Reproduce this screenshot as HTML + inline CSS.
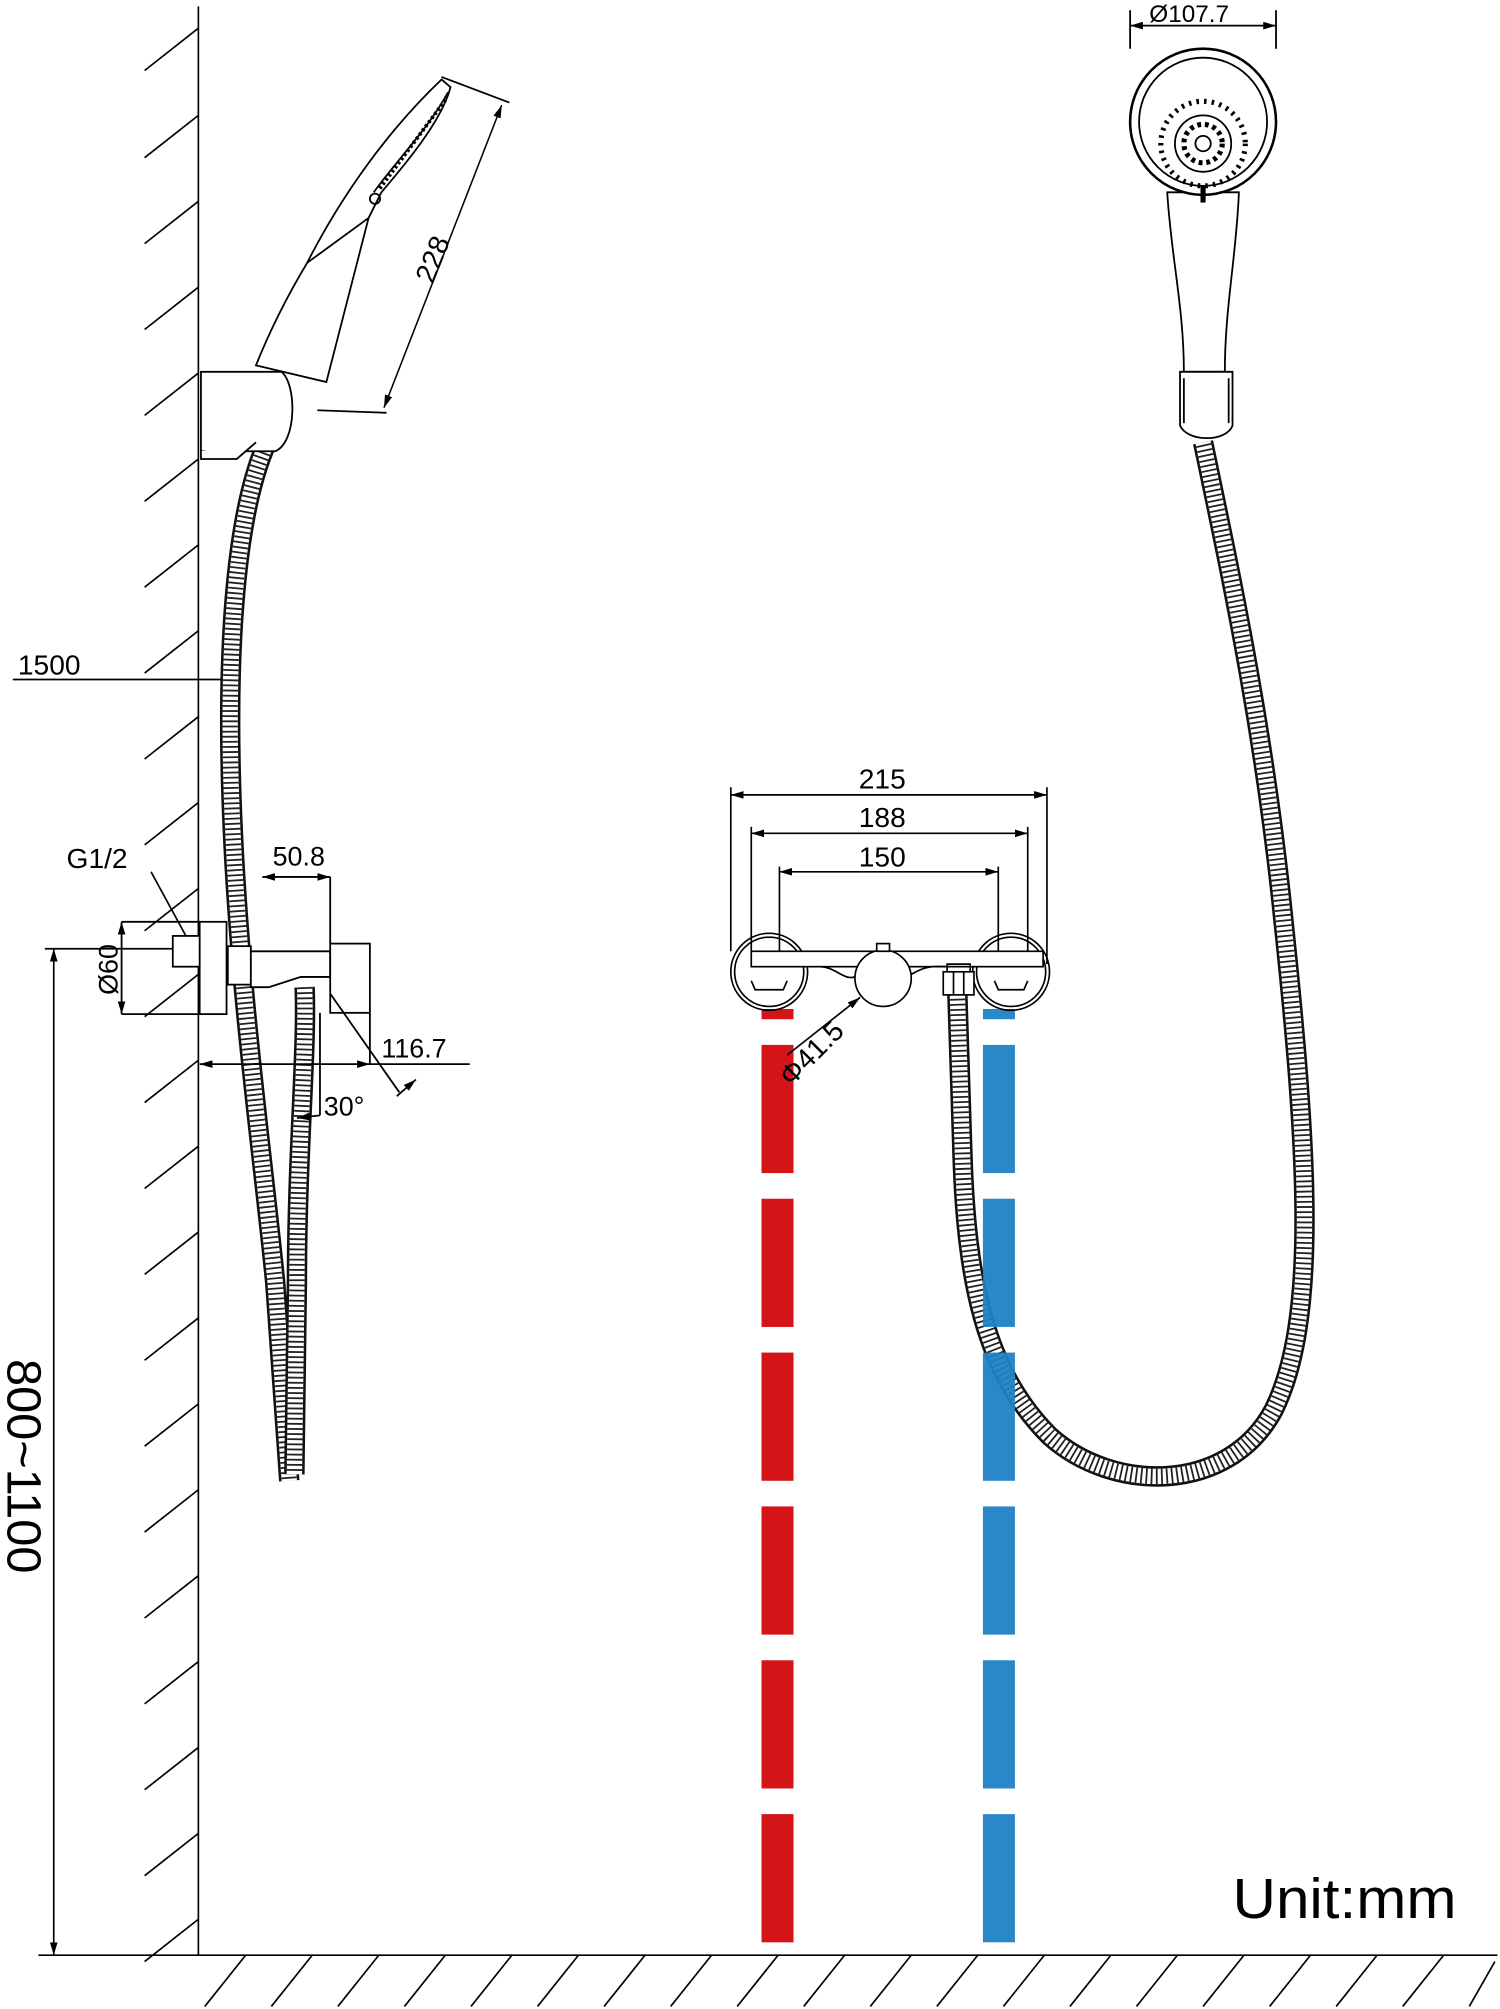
<!DOCTYPE html>
<html><head><style>html,body{margin:0;padding:0;background:#fff}svg{display:block}</style></head>
<body>
<svg width="1500" height="2009" viewBox="0 0 1172 1567" preserveAspectRatio="none" xmlns="http://www.w3.org/2000/svg" font-family="Liberation Sans, sans-serif">
<defs>
<marker id="a" viewBox="0 0 10 6" refX="10" refY="3" markerWidth="10" markerHeight="6" orient="auto-start-reverse" markerUnits="userSpaceOnUse"><path d="M0,0 L10,3 L0,6 Z" fill="#000"/></marker>
</defs>
<rect width="1172" height="1567" fill="#fff"/>
<g stroke="#000" stroke-width="1.3" fill="none">
<line x1="155" y1="5" x2="155" y2="1525"/>
<path d="M155,22 L113,55 M155,90 L113,123 M155,157 L113,190 M155,224 L113,257 M155,291 L113,324 M155,358 L113,391 M155,425 L113,458 M155,492 L113,525 M155,559 L113,592 M155,626 L113,659 M155,693 L113,726 M155,760 L113,793 M155,827 L113,860 M155,894 L113,927 M155,961 L113,994 M155,1028 L113,1061 M155,1095 L113,1128 M155,1162 L113,1195 M155,1229 L113,1262 M155,1296 L113,1329 M155,1363 L113,1396 M155,1430 L113,1463 M155,1497 L113,1530"/>
<line x1="30" y1="1525" x2="1170" y2="1525"/>
<path d="M192,1525 L160,1565 M244,1525 L212,1565 M296,1525 L264,1565 M348,1525 L316,1565 M400,1525 L368,1565 M452,1525 L420,1565 M504,1525 L472,1565 M556,1525 L524,1565 M608,1525 L576,1565 M660,1525 L628,1565 M712,1525 L680,1565 M764,1525 L732,1565 M816,1525 L784,1565 M868,1525 L836,1565 M920,1525 L888,1565 M972,1525 L940,1565 M1024,1525 L992,1565 M1076,1525 L1044,1565 M1128,1525 L1096,1565 M1168,1530 L1148,1565"/>
<line x1="35" y1="740" x2="135" y2="740"/>
<line x1="42" y1="740" x2="42" y2="1525" marker-start="url(#a)" marker-end="url(#a)"/>
<line x1="10" y1="530" x2="180" y2="530"/>
<line x1="118" y1="680" x2="148" y2="735"/>
</g>
<g fill="none" stroke-linecap="round">
<path id="h1" d="M212,338 C185,390 175,500 182,650 C188,780 205,900 215,1000 L226,1155"/>
<path id="h2" d="M238,770 C240,820 232,900 232,1000 L230,1150"/>
<path id="h3" d="M748,775 L752,900 C755,1000 770,1070 820,1120 C870,1165 960,1165 995,1100 C1030,1030 1022,900 1003,720 C988,570 962,450 940,345"/>
</g>
<g fill="none">
<use href="#h1" stroke="#111" stroke-width="16"/><use href="#h1" stroke="#fff" stroke-width="12"/><use href="#h1" stroke="#222" stroke-width="12" stroke-dasharray="1.4 2.6"/>
<use href="#h2" stroke="#111" stroke-width="16"/><use href="#h2" stroke="#fff" stroke-width="12"/><use href="#h2" stroke="#222" stroke-width="12" stroke-dasharray="1.4 2.6"/>
<use href="#h3" stroke="#111" stroke-width="16"/><use href="#h3" stroke="#fff" stroke-width="12"/><use href="#h3" stroke="#222" stroke-width="12" stroke-dasharray="1.4 2.6"/>
</g>
<g stroke="#000" stroke-width="1.4" fill="#fff">
<path d="M200,285 C212,255 225,230 240,205 C268,150 305,100 345,62 L352,68 C345,95 315,130 298,150 L288,170 L255,298 Z"/>
<path d="M240,205 L288,170" fill="none"/>
<path d="M350,72 C335,100 310,125 292,150" fill="none"/>
<path d="M348,78 L296,148" fill="none" stroke-width="3" stroke-dasharray="2 2"/>
<circle cx="293" cy="155" r="4" fill="none"/>
<path d="M157,290 L220,290 C232,300 232,345 215,352 L157,352 Z"/>
<path d="M157,352 L157,358 L185,358 L200,345"/>
<path d="M345,60 L398,80 M248,320 L302,322" fill="none"/>
<line x1="392" y1="82" x2="300" y2="318" marker-start="url(#a)" marker-end="url(#a)" fill="none" stroke-width="1.2"/>
<rect x="156" y="719" width="21" height="72"/>
<rect x="135" y="730" width="21" height="24"/>
<rect x="178" y="738" width="18" height="30"/>
<path d="M196,742 L258,742 L258,762 L235,762 L210,770 L196,770 Z"/>
<rect x="258" y="736" width="31" height="54"/>
<path d="M258,684 L258,736 M95,719 L156,719 M95,791 L156,791 M289,790 L289,830 M250,790 L250,870" fill="none"/>
<line x1="205" y1="684" x2="258" y2="684" marker-start="url(#a)" marker-end="url(#a)" fill="none"/>
<line x1="95" y1="719" x2="95" y2="791" marker-start="url(#a)" marker-end="url(#a)" fill="none"/>
<line x1="156" y1="830" x2="289" y2="830" marker-start="url(#a)" marker-end="url(#a)" fill="none"/>
<line x1="289" y1="830" x2="367" y2="830" fill="none"/>
<line x1="258" y1="775" x2="312" y2="852" fill="none"/>
<line x1="325" y1="842" x2="310" y2="855" marker-start="url(#a)" fill="none"/>
<line x1="250" y1="870" x2="232" y2="872" marker-end="url(#a)" fill="none"/>
<path d="M912,150 C915,200 925,240 925,290 L957,290 C957,240 966,200 968,150 Z"/>
<path d="M922,290 L963,290 L963,332 C958,345 928,345 922,332 Z"/>
<path d="M925,295 L925,330 M960,295 L960,330" fill="none"/>
<circle cx="940" cy="95" r="57" stroke-width="2"/>
<circle cx="940" cy="95" r="50" fill="none"/>
<circle cx="940" cy="112" r="33" fill="none" stroke-dasharray="2 4" stroke-width="4"/>
<circle cx="940" cy="112" r="22" fill="none"/>
<circle cx="940" cy="112" r="15" fill="none" stroke-dasharray="3 3" stroke-width="4"/>
<circle cx="940" cy="112" r="6" fill="none"/>
<line x1="940" y1="145" x2="940" y2="158" stroke-width="4"/>
<path d="M883,38 L883,8 M997,38 L997,8" fill="none"/>
<line x1="883" y1="20" x2="997" y2="20" marker-start="url(#a)" marker-end="url(#a)" fill="none"/>
</g>
<g fill="#d41418">
<rect x="595" y="787" width="25" height="8"/><rect x="595" y="815" width="25" height="100"/><rect x="595" y="935" width="25" height="100"/><rect x="595" y="1055" width="25" height="100"/><rect x="595" y="1175" width="25" height="100"/><rect x="595" y="1295" width="25" height="100"/><rect x="595" y="1415" width="25" height="100"/>
</g>
<g fill="#1f82c6" fill-opacity="0.95">
<rect x="768" y="787" width="25" height="8"/><rect x="768" y="815" width="25" height="100"/><rect x="768" y="935" width="25" height="100"/><rect x="768" y="1055" width="25" height="100"/><rect x="768" y="1175" width="25" height="100"/><rect x="768" y="1295" width="25" height="100"/><rect x="768" y="1415" width="25" height="100"/>
</g>
<g stroke="#000" stroke-width="1.3" fill="none">
<circle cx="601" cy="758" r="30"/><circle cx="601" cy="758" r="27"/>
<circle cx="790" cy="758" r="30"/><circle cx="790" cy="758" r="27"/>
<path d="M587,765 L590,772 L612,772 L615,765 M777,765 L780,772 L800,772 L803,765"/>
<rect x="587" y="742" width="228" height="12" fill="#fff"/>
<path d="M640,754 C655,754 660,768 672,760 M712,760 C725,752 732,754 745,754"/>
<circle cx="690" cy="763" r="22" fill="#fff"/>
<rect x="685" y="736" width="10" height="6" fill="#fff"/>
<rect x="737" y="758" width="24" height="18" fill="#fff"/>
<path d="M745,758 L745,776 M753,758 L753,776 M740,758 L740,752 L758,752 L758,758"/>
<path d="M571,742 L571,614 M818,752 L818,614 M587,742 L587,645 M803,742 L803,645 M609,742 L609,676 M780,742 L780,676"/>
<line x1="571" y1="620" x2="818" y2="620" marker-start="url(#a)" marker-end="url(#a)"/>
<line x1="587" y1="650" x2="803" y2="650" marker-start="url(#a)" marker-end="url(#a)"/>
<line x1="609" y1="680" x2="780" y2="680" marker-start="url(#a)" marker-end="url(#a)"/>
<line x1="615" y1="823" x2="672" y2="778" marker-end="url(#a)"/>
</g>
<g fill="#000" font-size="22">
<text x="14" y="526">1500</text>
<text x="52" y="677">G1/2</text>
<text x="213" y="675" font-size="21">50.8</text>
<text x="298" y="825" font-size="21">116.7</text>
<text x="253" y="870" font-size="21">30°</text>
<text transform="translate(92,776) rotate(-90)" font-size="21">Ø60</text>
<text transform="translate(338,222) rotate(-68)" font-size="22">228</text>
<text x="898" y="17" font-size="19">Ø107.7</text>
<text x="671" y="615">215</text>
<text x="671" y="645">188</text>
<text x="671" y="676">150</text>
<text transform="translate(618,848) rotate(-45)" font-size="22">Φ41.5</text>
<text transform="translate(6,1060) rotate(90)" font-size="38">800~1100</text>
<text x="963" y="1496" font-size="44" textLength="175" lengthAdjust="spacingAndGlyphs">Unit:mm</text>
</g>
</svg>
</body></html>
